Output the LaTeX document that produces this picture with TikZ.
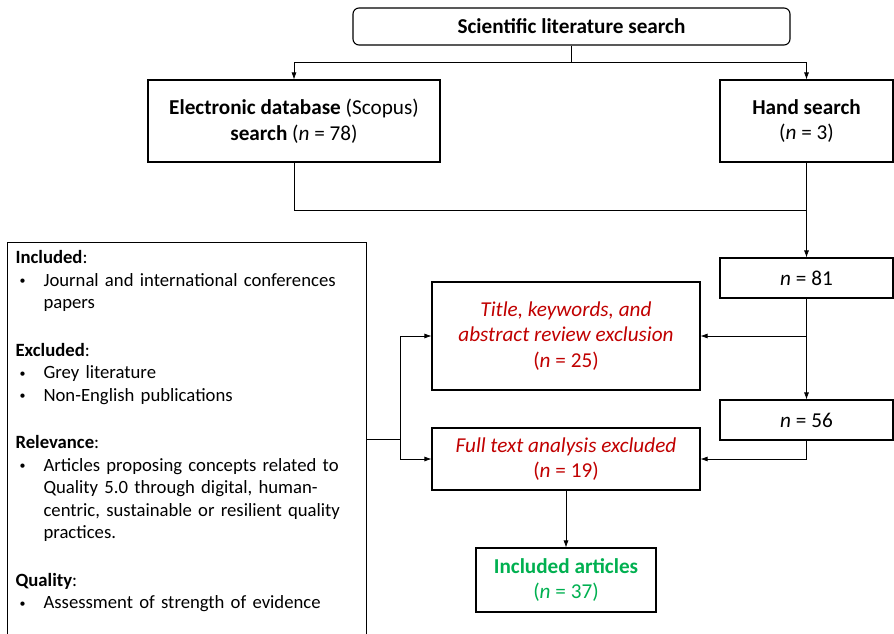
\documentclass[tikz,border=0pt]{standalone}
\usepackage{fontspec}
\setmainfont{Carlito}
\usetikzlibrary{arrows.meta}
\definecolor{exred}{HTML}{C00000}
\definecolor{incgreen}{HTML}{00B050}
\newcommand{\bul}{\makebox[28pt][l]{\hspace{4pt}\raisebox{1.5pt}{\fontsize{12}{12}\selectfont •}}}
\begin{document}
\begin{tikzpicture}[x=1pt,y=-1pt,
  box/.style={draw,line width=1.1pt,align=center,inner sep=2pt,font=\fontsize{21.2}{25.5}\selectfont},
  conn/.style={line width=0.7pt},
  arr/.style={conn,-{Latex[length=7pt,width=5pt]}}]
\useasboundingbox (0,0) rectangle (894,634);
\node[box,rounded corners=6pt,minimum width=437,minimum height=37] (top) at (571.5,26.5) {\textbf{Scientific literature search}};
\node[box,minimum width=292,minimum height=82] (elec) at (294,121) {\textbf{Electronic database} (Scopus)\\\textbf{search} (\textit{n} = 78)};
\node[box,minimum width=173,minimum height=82] (hand) at (806.5,121) {\textbf{Hand search}\\(\textit{n} = 3)};
\node[box,minimum width=173,minimum height=40] (n81) at (806.5,278) {\textit{n} = 81};
\node[box,minimum width=173,minimum height=40] (n56) at (806.5,420) {\textit{n} = 56};
\node[box,minimum width=268,minimum height=108,text=exred] (title) at (566,336) {\textit{Title, keywords, and}\\\textit{abstract review exclusion}\\(\textit{n} = 25)};
\node[box,minimum width=268,minimum height=62,text=exred] (full) at (566,459) {\textit{Full text analysis excluded}\\(\textit{n} = 19)};
\node[box,minimum width=180,minimum height=64,text=incgreen] (incl) at (566,580) {\textbf{Included articles}\\(\textit{n} = 37)};
\node[draw,line width=1.1pt,anchor=north west,minimum width=359,minimum height=394,text width=343,inner sep=8pt,align=left,font=\fontsize{18.7}{22.5}\selectfont] (crit) at (7,242) {%
\textbf{Included}:\\
\bul Journal and international conferences\\
\hspace*{28pt}papers\\[25pt]
\textbf{Excluded}:\\
\bul Grey literature\\
\bul Non-English publications\\[25pt]
\textbf{Relevance}:\\
\bul Articles proposing concepts related to\\
\hspace*{28pt}Quality 5.0 through digital, human-\\
\hspace*{28pt}centric, sustainable or resilient quality\\
\hspace*{28pt}practices.\\[25pt]
\textbf{Quality}:\\
\bul Assessment of strength of evidence\\[30pt]\mbox{}};
\coordinate (split) at (571.5,62);
\coordinate (merge) at (806.5,210);
\coordinate (cx) at (400,439);
\draw[conn] (top.south) -- (split);
\draw[arr] (split) -| (elec.north);
\draw[arr] (split) -| (hand.north);
\draw[conn] (elec.south) |- (merge);
\draw[arr] (hand.south) -- (n81.north);
\draw[arr] (n81.south) -- (n56.north);
\draw[arr] (n81.south |- title.east) -- (title.east);
\draw[arr] (n56.south) |- (full.east);
\draw[arr] (full.south) -- (incl.north);
\draw[conn] (crit.east |- cx) -- (cx);
\draw[arr] (cx) |- (title.west);
\draw[arr] (cx) |- (full.west);
\end{tikzpicture}
\end{document}
